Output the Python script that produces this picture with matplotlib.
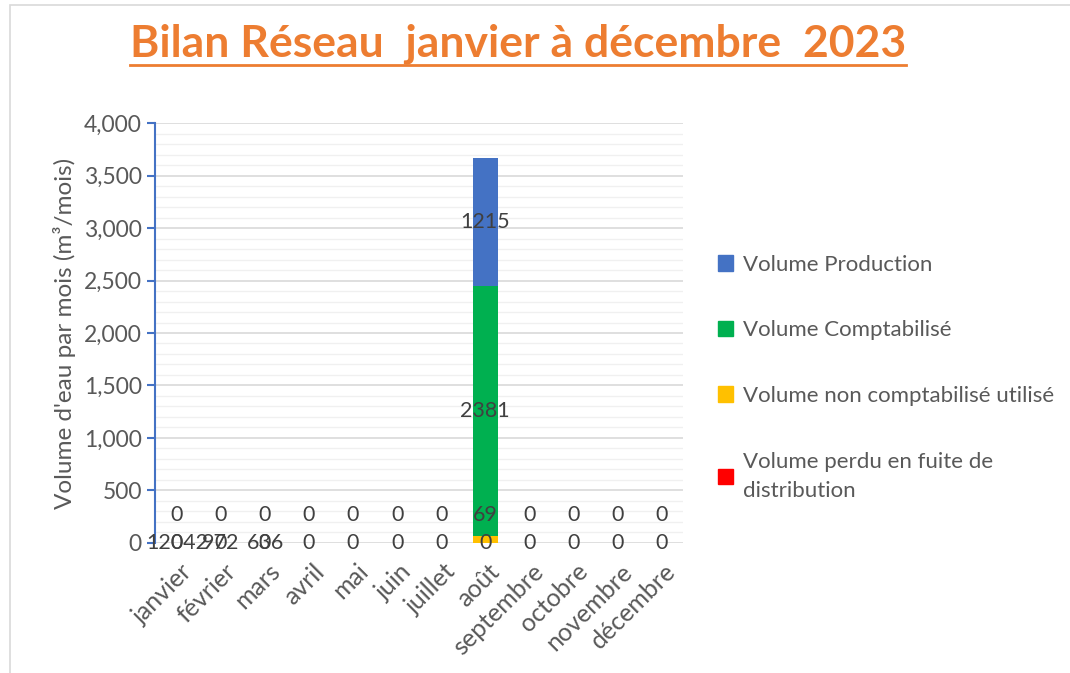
import matplotlib.pyplot as plt
from matplotlib.patches import Patch, Rectangle
from matplotlib.ticker import FuncFormatter, MultipleLocator
from matplotlib.lines import Line2D
from matplotlib.transforms import ScaledTranslation

plt.rcParams['font.family'] = ['Lato', 'DejaVu Sans']

# Data
mois = ['janvier', 'février', 'mars', 'avril', 'mai', 'juin', 'juillet',
        'août', 'septembre', 'octobre', 'novembre', 'décembre']
vol_production = [0, 0, 0, 0, 0, 0, 0, 1215, 0, 0, 0, 0]
vol_comptabilise = [0, 0, 0, 0, 0, 0, 0, 2381, 0, 0, 0, 0]
vol_non_compta = [0, 0, 0, 0, 0, 0, 0, 69, 0, 0, 0, 0]
vol_perdu = [0, 0, 0, 0, 0, 0, 0, 0, 0, 0, 0, 0]
# labels stuck at the baseline for the first months (text values in the sheet)
etiquettes_base = ['12042', '972', '636']

gris = '#595959'
txt = '#404040'
c_prod, c_compta, c_non, c_perdu = '#4472C4', '#00B050', '#FFC000', '#FF0000'

fig = plt.figure(figsize=(10.7, 6.73), dpi=100)
ax = fig.add_axes([0.1449, 0.1932, 0.4935, 0.624])

x = list(range(len(mois)))
w = 0.57
ax.bar(x, vol_non_compta, w, color=c_non, zorder=3)
b1 = vol_non_compta
ax.bar(x, vol_comptabilise, w, bottom=b1, color=c_compta, zorder=3)
b2 = [a + b for a, b in zip(b1, vol_comptabilise)]
ax.bar(x, vol_production, w, bottom=b2, color=c_prod, zorder=3)
b3 = [a + b for a, b in zip(b2, vol_production)]
ax.bar(x, vol_perdu, w, bottom=b3, color=c_perdu, zorder=3)

# data labels
lab_kw = dict(ha='center', va='center', fontsize=15.5, color=txt, zorder=5)
for i in x:
    ax.text(i, 0, str(vol_perdu[i]), **lab_kw)
    ax.text(i, 270, str(vol_non_compta[i]), **lab_kw)
    if vol_comptabilise[i] > 0:
        ax.text(i, b1[i] + vol_comptabilise[i] / 2, str(vol_comptabilise[i]), **lab_kw)
    if vol_production[i] > 0:
        ax.text(i, b2[i] + vol_production[i] / 2, str(vol_production[i]), **lab_kw)
for i, t in enumerate(etiquettes_base):
    ax.text(i, 0, t, **lab_kw)

ax.set_xlim(-0.5, 11.5)
ax.set_ylim(0, 4000)
ax.yaxis.set_major_locator(MultipleLocator(500))
ax.yaxis.set_minor_locator(MultipleLocator(100))
ax.yaxis.set_major_formatter(FuncFormatter(lambda v, p: f'{int(v):,}'))
ax.grid(axis='y', which='major', color='#d9d9d9', linewidth=1.2, zorder=0)
ax.grid(axis='y', which='minor', color='#f0f0f0', linewidth=1.0, zorder=0)
for s in ['top', 'right', 'bottom']:
    ax.spines[s].set_visible(False)
ax.spines['left'].set_color(c_prod)
ax.spines['left'].set_linewidth(1.5)
ax.tick_params(axis='y', which='major', colors=c_prod, length=6, width=1.5,
               labelcolor=gris, labelsize=16.5)
ax.tick_params(axis='y', which='minor', length=0)
ax.tick_params(axis='x', length=0, labelcolor=gris, labelsize=18, pad=12)
ax.set_xticks(x)
ax.set_xticklabels(mois, rotation=45, ha='right', rotation_mode='anchor')
shift = ScaledTranslation(3 / 100, 0, fig.dpi_scale_trans)
for lbl in ax.get_xticklabels():
    lbl.set_transform(lbl.get_transform() + shift)
ax.set_ylabel("Volume d'eau par mois (m³/mois)", fontsize=17.5, color=gris, labelpad=6)

# legend
handles = [Patch(color=c_prod), Patch(color=c_compta), Patch(color=c_non), Patch(color=c_perdu)]
labels = ['Volume Production', 'Volume Comptabilisé', 'Volume non comptabilisé utilisé',
          'Volume perdu en fuite de\ndistribution']
leg = fig.legend(handles, labels, loc='upper left', bbox_to_anchor=(0.652, 0.651),
                 frameon=False, fontsize=16, labelcolor=gris, handlelength=0.7,
                 handleheight=0.7, handletextpad=0.45, labelspacing=2.05)
for t in leg.get_texts():
    t.set_linespacing(1.6)

# title, underlined
title = fig.text(0.484, 0.935, 'Bilan Réseau  janvier à décembre  2023', ha='center',
                 va='center', fontsize=32, fontweight='bold', color='#ED7D31')
fig.canvas.draw()
bb = title.get_window_extent().transformed(fig.transFigure.inverted())
fig.add_artist(Line2D([bb.x0, bb.x1], [bb.y0 - 0.002, bb.y0 - 0.002],
                      color='#ED7D31', linewidth=2))

# outer frame
fig.add_artist(Rectangle((0.009, -0.1), 1.2, 1.093, transform=fig.transFigure,
                         fill=False, edgecolor='#d9d9d9', linewidth=1.2))

fig.savefig('out.png', dpi=100)
